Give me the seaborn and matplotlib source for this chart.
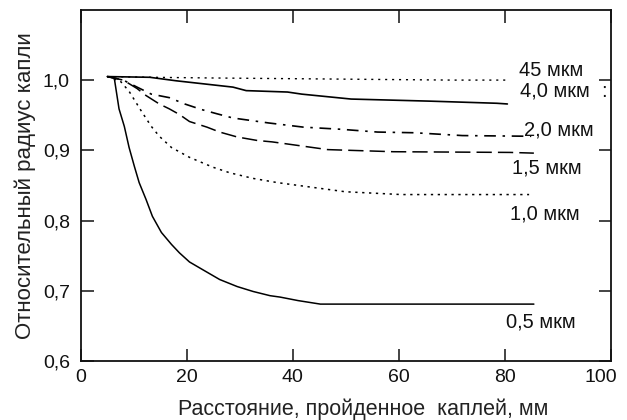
# Relative droplet radius vs distance travelled, for several droplet sizes
import numpy as np
import pandas as pd
import seaborn as sns
import matplotlib
matplotlib.use("Agg")
import matplotlib.pyplot as plt
import matplotlib.transforms as mtransforms

# curve data (distance mm, relative radius)
x_45 = [5, 13, 25, 40, 55, 70, 81]
y_45 = [1.005, 1.004, 1.003, 1.002, 1.001, 1.000, 1.000]

x_40 = [5, 13, 18, 28.7, 31.2, 39, 41.7, 51, 66, 78.5, 80.5]
y_40 = [1.005, 1.004, 0.999, 0.990, 0.985, 0.983, 0.980, 0.973, 0.970, 0.967, 0.966]

x_20 = [5, 8, 10.6, 13.3, 16.7, 19.6, 22.8, 25.7, 28.7, 31.6, 35.4, 42, 49, 56, 63, 72, 85]
y_20 = [1.005, 1.000, 0.990, 0.980, 0.975, 0.966, 0.958, 0.952, 0.946, 0.943, 0.939,
        0.933, 0.930, 0.926, 0.925, 0.921, 0.920]

x_15 = [5, 8, 10.6, 12.3, 14.8, 16.7, 18.6, 20.5, 23.8, 26.2, 29.5, 33.3, 36.1, 39,
        46.6, 59, 81, 85.5]
y_15 = [1.005, 1.000, 0.988, 0.978, 0.966, 0.959, 0.951, 0.941, 0.933, 0.926, 0.919,
        0.914, 0.912, 0.909, 0.901, 0.898, 0.897, 0.896]

x_10 = [5, 7.5, 9.1, 11.4, 13.3, 14.8, 17.1, 20.5, 24.9, 28.1, 32.5, 37.1, 49.9, 60.5, 84.6]
y_10 = [1.005, 0.998, 0.984, 0.956, 0.934, 0.920, 0.904, 0.890, 0.876, 0.868, 0.860,
        0.854, 0.841, 0.837, 0.837]

x_05 = [5, 6.3, 7.2, 8.2, 9.1, 10.1, 11.0, 12.3, 13.5, 15.2, 17.1, 18.6, 20.5, 23.0,
        26.2, 29.5, 32.5, 35.7, 37.6, 41, 45.2, 85.5]
y_05 = [1.005, 1.003, 0.959, 0.934, 0.904, 0.877, 0.854, 0.830, 0.806, 0.783, 0.766,
        0.754, 0.741, 0.730, 0.716, 0.706, 0.699, 0.693, 0.691, 0.686, 0.681, 0.681]

curve_labels = ["45 мкм", "4,0 мкм", "2,0 мкм", "1,5 мкм", "1,0 мкм", "0,5 мкм", ":"]
label_x = [88.7, 89.4, 90.2, 87.9, 87.5, 86.8, 98.7]
label_y = [1.013, 0.985, 0.929, 0.875, 0.809, 0.655, 0.984]

x_ticks = [0, 20, 40, 60, 80, 100]
y_ticks = [0.6, 0.7, 0.8, 0.9, 1.0]
y_tick_labels = ["0,6", "0,7", "0,8", "0,9", "1,0"]

sns.set_style("white")
plt.rcParams['font.family'] = ['Liberation Sans', 'DejaVu Sans']

fig = plt.figure(figsize=(6.27, 4.2), dpi=100)
ax = fig.add_axes([0.129, 0.1405, 0.845, 0.836])

curves = [(x_45, y_45, (0, (1.5, 3.5)), 1.0),
          (x_40, y_40, '-', 1.2),
          (x_20, y_20, (0, (7, 4, 1.5, 4)), 1.2),
          (x_15, y_15, (0, (10, 4)), 1.1),
          (x_10, y_10, (0, (1.5, 3)), 1.1),
          (x_05, y_05, '-', 1.1)]
for xs, ys, ls, lw in curves:
    df = pd.DataFrame({'x': xs, 'y': ys})
    sns.lineplot(data=df, x='x', y='y', ax=ax, color='black', linestyle=ls,
                 linewidth=lw, estimator=None, sort=False)

for txt, tx, ty in zip(curve_labels, label_x, label_y):
    ax.text(tx, ty, txt, ha='center', va='center', fontsize=14.5, color='#111111')

ax.set_xlim(0, 100)
ax.set_ylim(0.6, 1.1)
ax.set_xticks(x_ticks)
ax.set_xticklabels([str(v) for v in x_ticks], fontsize=14)
ax.set_yticks(y_ticks)
ax.set_yticklabels(y_tick_labels, fontsize=14)
ax.tick_params(direction='in', length=9, width=1.1, top=True, right=True,
               bottom=True, left=True, colors='#111111')
ax.tick_params(axis='x', pad=6)
ax.tick_params(axis='y', pad=8)
# the last x label sits a little left of the frame in the original
shift = mtransforms.ScaledTranslation(-0.10, 0, fig.dpi_scale_trans)
last = ax.get_xticklabels()[-1]
last.set_transform(last.get_transform() + shift)
for sp in ax.spines.values():
    sp.set_color('#111111')
    sp.set_linewidth(1.3)

ax.set_xlabel("Расстояние, пройденное  каплей, мм", fontsize=15.5, color='#222222')
ax.xaxis.set_label_coords(0.532, -0.137)
ax.xaxis.label.set_va('center')
ax.set_ylabel("Относительный радиус капли", fontsize=16, color='#222222', labelpad=5)

fig.savefig("out.png", dpi=100)
